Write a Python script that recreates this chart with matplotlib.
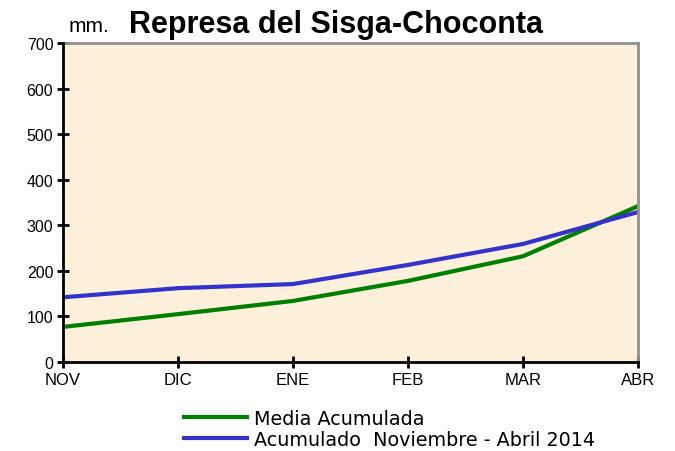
import matplotlib
matplotlib.use("Agg")
import matplotlib.pyplot as plt
from matplotlib.lines import Line2D

plt.rcParams['font.family'] = ['Liberation Sans', 'DejaVu Sans']

months = ["NOV", "DIC", "ENE", "FEB", "MAR", "ABR"]
media = [77, 105, 134, 178, 232, 342]
acum2014 = [142, 162, 171, 213, 259, 329]
yticks = [0, 100, 200, 300, 400, 500, 600, 700]

fig = plt.figure(figsize=(6.75, 4.52), dpi=100)
ax = fig.add_axes([63/675, 1-363/452, (638-63)/675, (363-44)/452])
ax.set_facecolor('#FCF0DA')
x = list(range(len(months)))
ax.plot(x, media, color='#008000', lw=3, label='Media Acumulada')
ax.plot(x, acum2014, color='#3333CC', lw=3, label='Acumulado  Noviembre - Abril 2014')
ax.set_xlim(0, len(months)-1)
ax.set_ylim(0, 700)
ax.set_xticks(x)
ax.set_xticklabels(months, fontsize=12)
ax.set_yticks(yticks)
ax.set_yticklabels([str(v) for v in yticks], fontsize=11.5)
ax.tick_params(direction='inout', length=8, width=2, color='black', pad=3)
for s in ['left', 'bottom']:
    ax.spines[s].set_color('black')
    ax.spines[s].set_linewidth(2)
for s in ['top', 'right']:
    ax.spines[s].set_color('#909090')
    ax.spines[s].set_linewidth(2)
ax.spines['left'].set_zorder(5)
ax.spines['bottom'].set_zorder(5)

fig.text(69/675, 1-26/452, 'mm.', fontsize=15, va='center', ha='left')
fig.text(129/675, 1-25/452, 'Represa del Sisga-Choconta', fontsize=22, fontweight='bold', va='center', ha='left')

handles = [Line2D([0], [0], color='#008000', lw=3), Line2D([0], [0], color='#3333CC', lw=3)]
leg = fig.legend(handles, ['Media Acumulada', 'Acumulado  Noviembre - Abril 2014'],
                 loc='upper left', bbox_to_anchor=(174/675, 1-400/452), frameon=False,
                 prop={'family': 'DejaVu Sans', 'size': 13.8},
                 handlelength=3.3, handletextpad=0.35, labelspacing=0.1, borderpad=0)
fig.savefig('out.png', dpi=100)
